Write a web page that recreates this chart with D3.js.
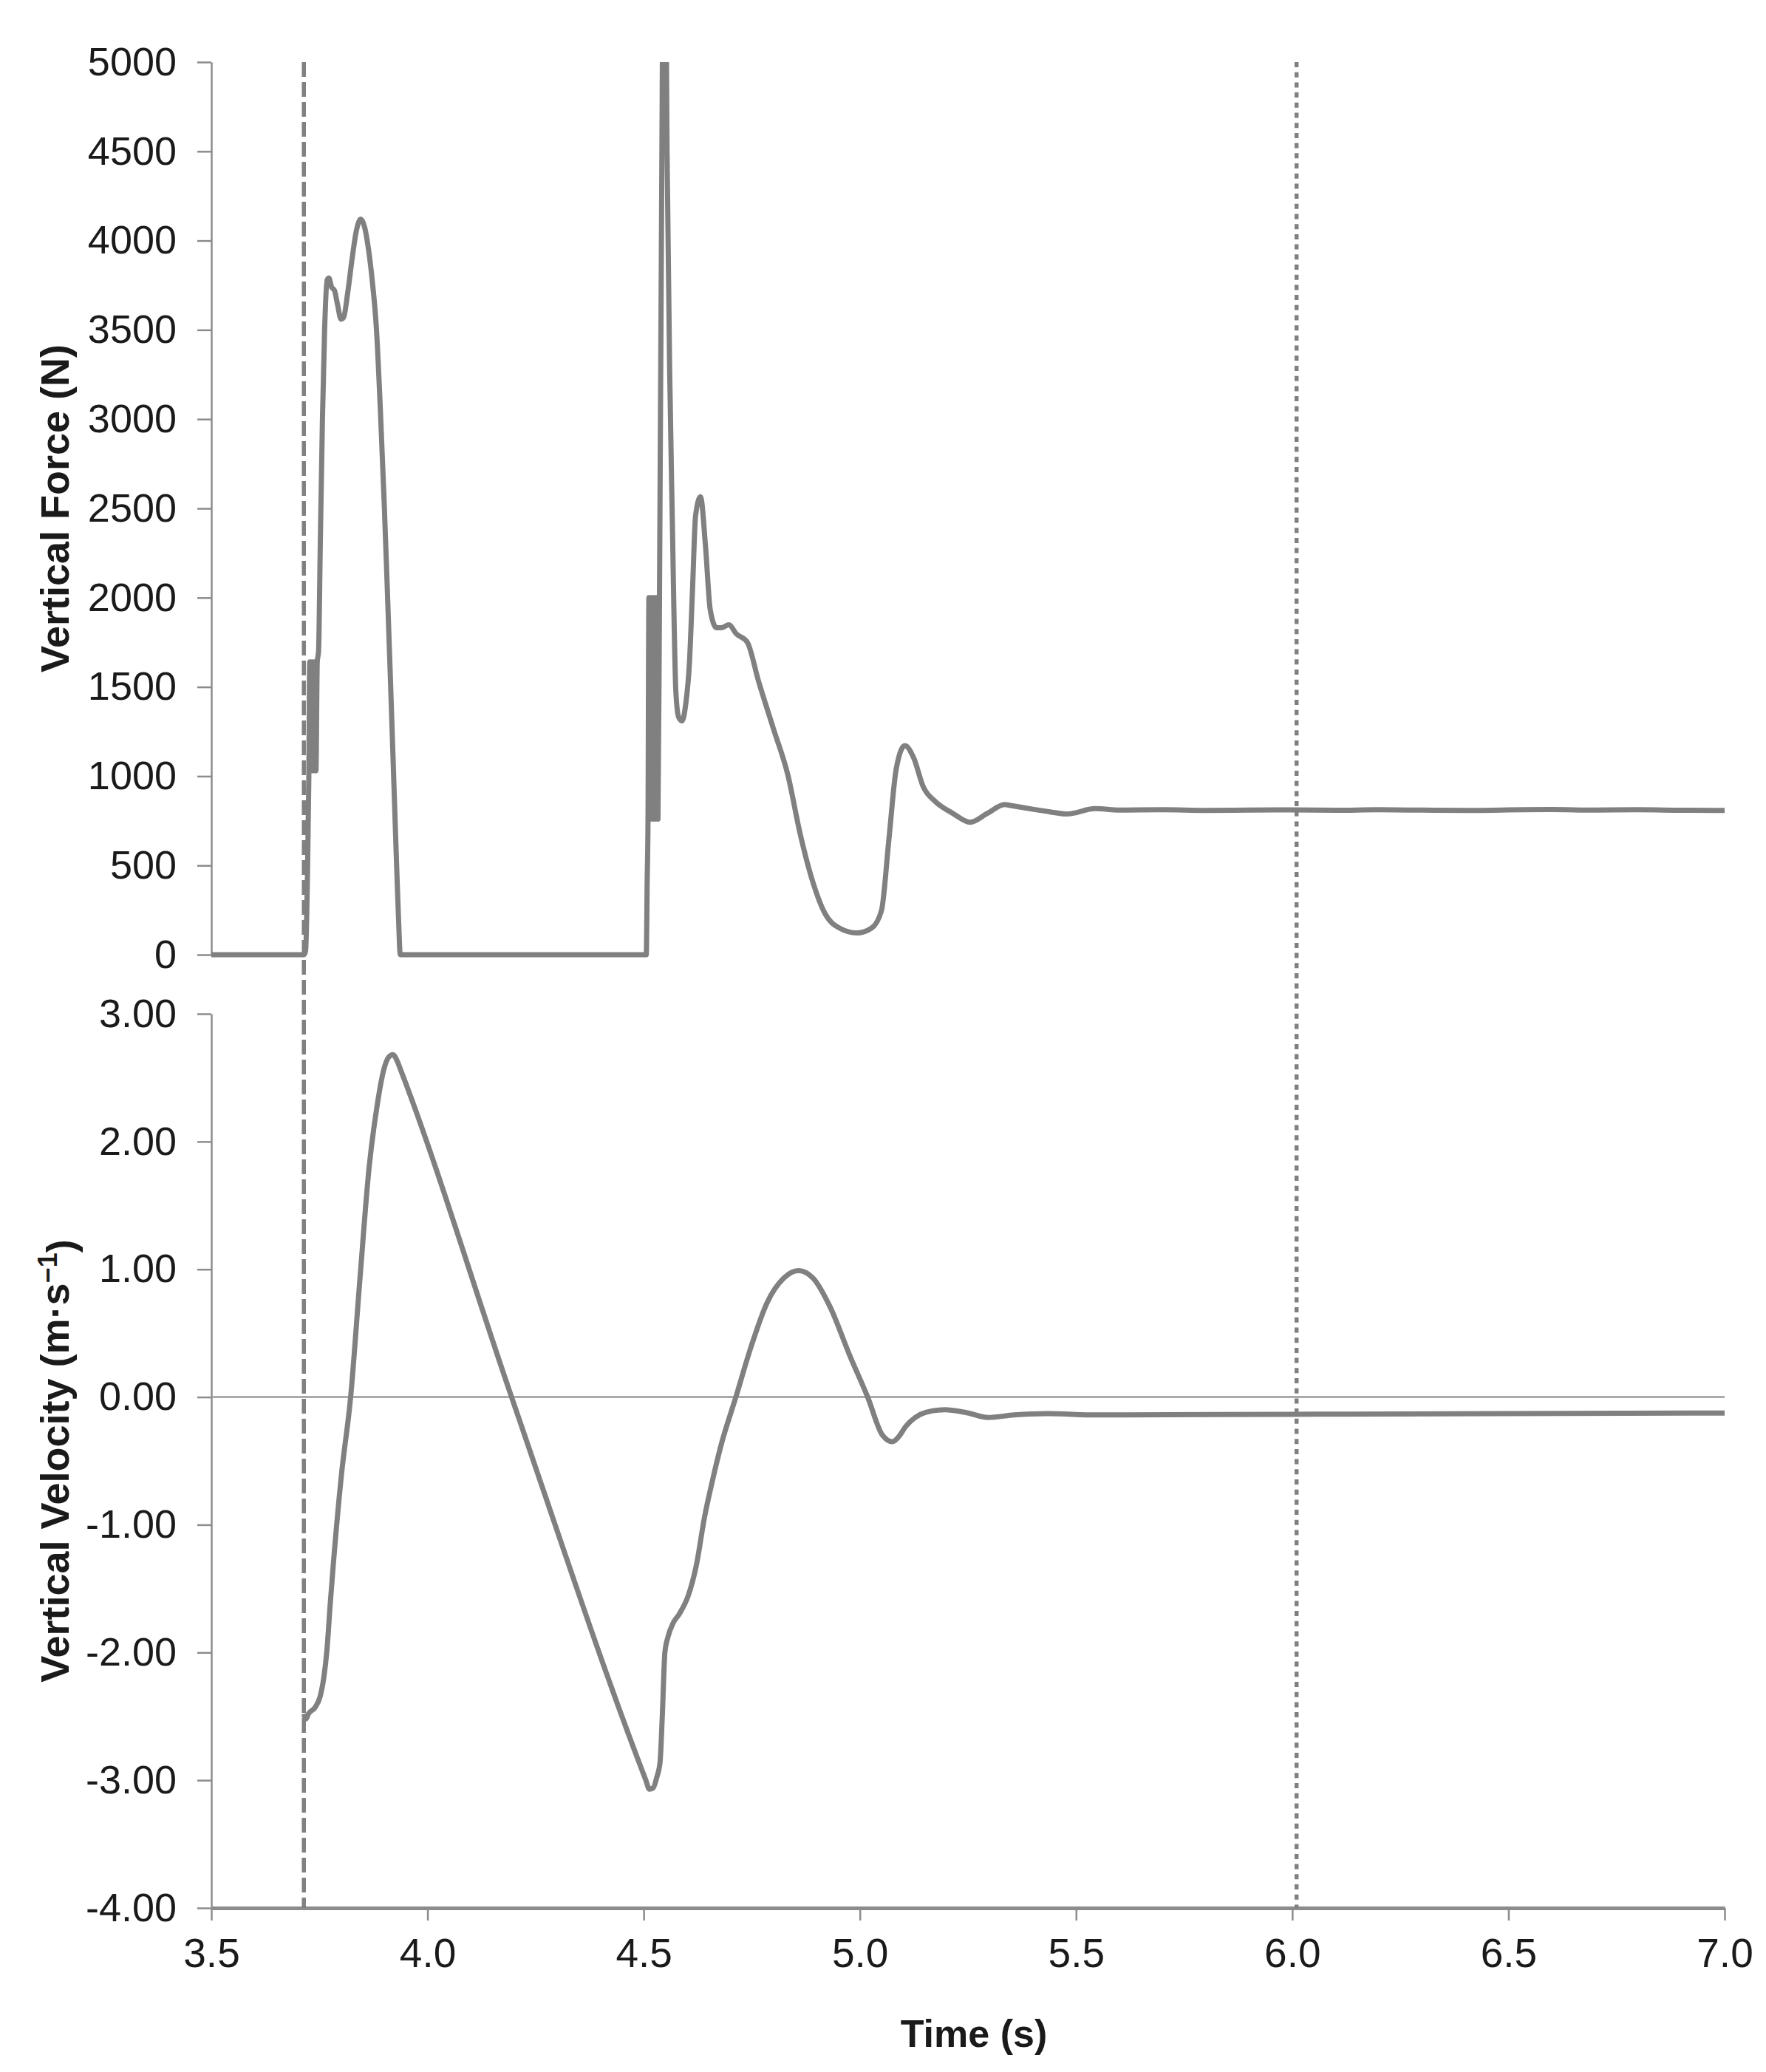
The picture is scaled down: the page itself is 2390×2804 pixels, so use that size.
<!DOCTYPE html>
<html>
<head>
<meta charset="utf-8">
<script src="https://cdn.jsdelivr.net/npm/d3@7"></script>
<style>
  html, body { margin: 0; padding: 0; background: #fff; }
  svg { display: block; }
  text { font-family: "Liberation Sans", Arial, sans-serif; }
</style>
</head>
<body>
<svg id="chart" width="2390" height="2804"></svg>
<script>
// ---------------- DATA ----------------
const timeTicks = [3.5, 4.0, 4.5, 5.0, 5.5, 6.0, 6.5, 7.0];
const timeTickLabels = ["3.5", "4.0", "4.5", "5.0", "5.5", "6.0", "6.5", "7.0"];
const forceTicks = [0, 500, 1000, 1500, 2000, 2500, 3000, 3500, 4000, 4500, 5000];
const forceTickLabels = ["0", "500", "1000", "1500", "2000", "2500", "3000", "3500", "4000", "4500", "5000"];
const velocityTicks = [-4, -3, -2, -1, 0, 1, 2, 3];
const velocityTickLabels = ["-4.00", "-3.00", "-2.00", "-1.00", "0.00", "1.00", "2.00", "3.00"];

const forceTime = [
  3.50, 3.714, 3.718, 3.722, 3.7255, 3.7275, 3.730, 3.733, 3.736, 3.739, 3.742, 3.745, 3.748,
  3.752, 3.757, 3.762, 3.768, 3.772, 3.778, 3.785, 3.792, 3.800, 3.806, 3.815, 3.8257, 3.835,
  3.8456, 3.855, 3.863, 3.872, 3.882, 3.891, 3.900, 3.907, 3.914, 3.921, 3.928, 3.933, 3.937,
  4.506, 4.508, 4.510, 4.512, 4.515, 4.518, 4.521, 4.524, 4.527, 4.530, 4.533, 4.5365,
  4.541, 4.548, 4.554, 4.560, 4.566, 4.5745, 4.581, 4.5887, 4.597, 4.6058, 4.613, 4.620,
  4.6314, 4.6428, 4.654, 4.6684, 4.680, 4.697, 4.714, 4.7397, 4.7653, 4.7995, 4.8336, 4.862,
  4.8905, 4.919, 4.953, 4.993, 5.027, 5.050, 5.067, 5.084, 5.104, 5.124, 5.1467, 5.175,
  5.215, 5.255, 5.295, 5.335, 5.348, 5.400, 5.440, 5.479, 5.544, 5.600, 5.700, 5.800,
  5.900, 6.000, 6.100, 6.200, 6.300, 6.400, 6.500, 6.600, 6.700, 6.800, 6.900, 7.000
];
const forceValues = [
  0, 0, 20, 400, 1000, 1640, 1030, 1640, 1030, 1640, 1030, 1640, 1700,
  2300, 3000, 3500, 3780, 3790, 3740, 3720, 3640, 3560, 3570, 3700, 3900, 4050,
  4120, 4070, 3960, 3780, 3500, 3050, 2520, 2050, 1560, 1050, 540, 200, 0,
  0, 400, 760, 2000, 760, 2000, 760, 2000, 760, 2000, 760, 2000,
  4000, 6500, 4500, 3284, 2459, 1469, 1330, 1310, 1400, 1635, 2050, 2459,
  2565, 2293, 1930, 1832, 1832, 1848, 1798, 1750, 1535, 1270, 1005, 676,
  413, 232, 149, 122, 149, 248, 643, 1040, 1171, 1105, 940, 857,
  792, 742, 792, 841, 836, 815, 800, 788, 818, 810, 812, 808,
  810, 811, 809, 812, 810, 808, 811, 813, 810, 812, 809, 808
];

const velocityTime = [
  3.714, 3.719, 3.7246, 3.740, 3.752, 3.760, 3.7674, 3.775, 3.7826, 3.8009, 3.8222, 3.8436,
  3.865, 3.8834, 3.8986, 3.910, 3.920, 3.930, 3.938, 4.1944, 4.505, 4.513, 4.522, 4.530,
  4.5378, 4.543, 4.549, 4.556, 4.568, 4.582, 4.6025, 4.6216, 4.6407, 4.660, 4.6787, 4.7132,
  4.7475, 4.7856, 4.8237, 4.858, 4.892, 4.9305, 4.976, 5.018, 5.0525, 5.0753, 5.090, 5.106,
  5.128, 5.152, 5.197, 5.243, 5.2966, 5.357, 5.434, 5.548, 6.000, 6.500, 7.000
];
const velocityValues = [
  -2.48, -2.52, -2.48, -2.43, -2.34, -2.20, -1.98, -1.62, -1.29, -0.61, 0.00, 0.92,
  1.80, 2.28, 2.56, 2.66, 2.68, 2.63, 2.56, 0.00, -3.00, -3.07, -3.06, -2.98,
  -2.86, -2.50, -2.00, -1.88, -1.77, -1.70, -1.56, -1.32, -0.94, -0.64, -0.38, 0.00,
  0.385, 0.74, 0.93, 0.99, 0.93, 0.71, 0.33, 0.00, -0.30, -0.35, -0.31, -0.23,
  -0.16, -0.12, -0.10, -0.12, -0.16, -0.14, -0.13, -0.14, -0.135, -0.13, -0.125
];

const markerTimes = [3.714, 6.01];   // dashed (start), dotted (end)

// ---------------- LAYOUT ----------------
const svg = d3.select("#chart");
const X0 = 286, X1 = 2334;
const fTop = 84, fBot = 1292;
const vTop = 1372, vBot = 2582;
const lineColor = "#808080";
const axisColor = "#8c8c8c";
const textColor = "#1a1a1a";

const x = d3.scaleLinear().domain([3.5, 7.0]).range([X0, X1]);
const yF = d3.scaleLinear().domain([0, 5000]).range([fBot, fTop]);
const yV = d3.scaleLinear().domain([-4, 3]).range([vBot, vTop]);

svg.append("defs").append("clipPath").attr("id", "clipF")
  .append("rect").attr("x", X0).attr("y", fTop).attr("width", X1 - X0 + 10).attr("height", fBot - fTop + 10);

function styleAxis(g, fontSize) {
  g.select(".domain").attr("stroke", axisColor).attr("stroke-width", 2.5);
  g.selectAll(".tick line").attr("stroke", axisColor).attr("stroke-width", 2.5);
  g.selectAll(".tick text").attr("fill", textColor)
    .style("font-family", '"Liberation Sans", Arial, sans-serif')
    .style("font-size", fontSize + "px");
}

const axF = svg.append("g").attr("transform", `translate(${X0},0)`)
  .call(d3.axisLeft(yF).tickValues(forceTicks)
    .tickFormat((d, i) => forceTickLabels[i]).tickSize(19).tickSizeOuter(0).tickPadding(28));
styleAxis(axF, 54);

const axV = svg.append("g").attr("transform", `translate(${X0},0)`)
  .call(d3.axisLeft(yV).tickValues(velocityTicks)
    .tickFormat((d, i) => velocityTickLabels[i]).tickSize(19).tickSizeOuter(0).tickPadding(28));
styleAxis(axV, 54);

svg.append("line")
  .attr("x1", X0).attr("x2", X1)
  .attr("y1", yV(0)).attr("y2", yV(0))
  .attr("stroke", "#9a9a9a").attr("stroke-width", 2.5);

const axT = svg.append("g").attr("transform", `translate(0,${vBot})`)
  .call(d3.axisBottom(x).tickValues(timeTicks)
    .tickFormat((d, i) => timeTickLabels[i]).tickSize(17).tickSizeOuter(0).tickPadding(24));
styleAxis(axT, 55);
axT.select(".domain").attr("stroke-width", 5);

svg.append("line")
  .attr("x1", x(markerTimes[0])).attr("x2", x(markerTimes[0]))
  .attr("y1", fTop).attr("y2", vBot)
  .attr("stroke", lineColor).attr("stroke-width", 5.5)
  .attr("stroke-dasharray", "20,7");
svg.append("line")
  .attr("x1", x(markerTimes[1])).attr("x2", x(markerTimes[1]))
  .attr("y1", fTop).attr("y2", vBot)
  .attr("stroke", lineColor).attr("stroke-width", 5.5)
  .attr("stroke-dasharray", "7,6.7");

const forceData = forceTime.map((t, i) => [t, forceValues[i]]);
const velData = velocityTime.map((t, i) => [t, velocityValues[i]]);

svg.append("path")
  .datum(forceData)
  .attr("clip-path", "url(#clipF)")
  .attr("fill", "none")
  .attr("stroke", lineColor).attr("stroke-width", 7)
  .attr("stroke-linejoin", "round")
  .attr("d", d3.line().x(d => x(d[0])).y(d => yF(d[1])).curve(d3.curveMonotoneX));

svg.append("path")
  .datum(velData)
  .attr("fill", "none")
  .attr("stroke", lineColor).attr("stroke-width", 7)
  .attr("stroke-linejoin", "round")
  .attr("d", d3.line().x(d => x(d[0])).y(d => yV(d[1])).curve(d3.curveMonotoneX));

svg.append("text")
  .attr("transform", `translate(93,${(fTop + fBot) / 2}) rotate(-90)`)
  .attr("text-anchor", "middle")
  .attr("fill", textColor)
  .style("font-size", "54px").style("font-weight", "bold")
  .text("Vertical Force (N)");

const vt = svg.append("text")
  .attr("transform", `translate(93,${(vTop + vBot) / 2}) rotate(-90)`)
  .attr("text-anchor", "middle")
  .attr("fill", textColor)
  .style("font-size", "54px").style("font-weight", "bold");
vt.append("tspan").text("Vertical Velocity (m·s");
vt.append("tspan").attr("dy", "-0.45em").style("font-size", "36px").text("−1");
vt.append("tspan").attr("dy", "0.45em").text(")");

svg.append("text")
  .attr("x", (X0 + X1) / 2 + 8).attr("y", 2770)
  .attr("text-anchor", "middle")
  .attr("fill", textColor)
  .style("font-size", "52px").style("font-weight", "bold")
  .text("Time (s)");
</script>
</body>
</html>
